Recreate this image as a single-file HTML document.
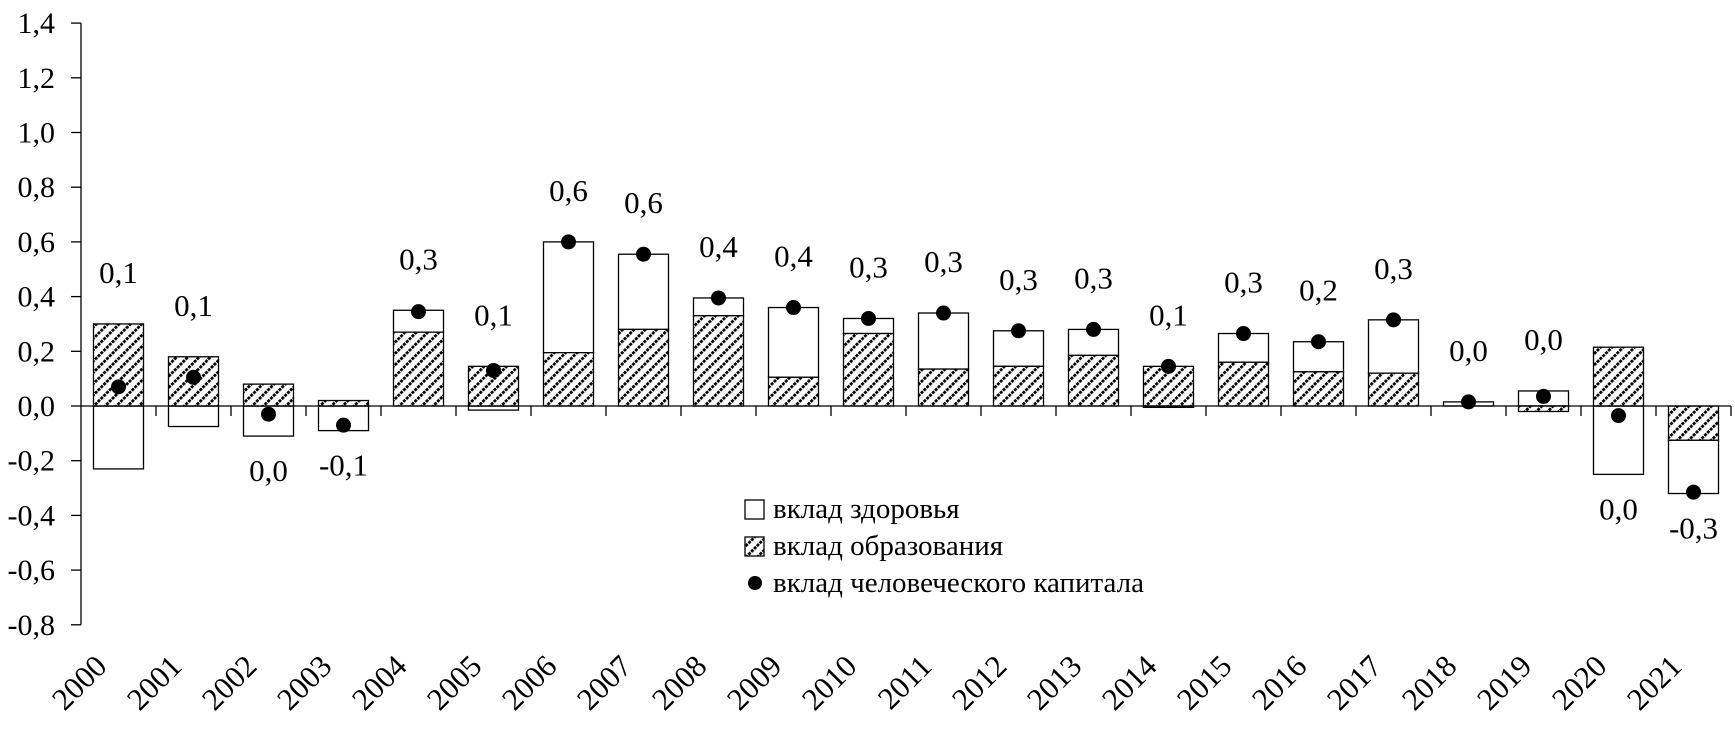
<!DOCTYPE html>
<html><head><meta charset="utf-8"><style>
html,body{margin:0;padding:0;background:#fff;}
svg, svg text{font-family:"Liberation Serif","Times New Roman",serif;}
</style></head><body>
<svg id="chart" width="1735" height="739" viewBox="0 0 1735 739" font-family="Liberation Serif, serif">
<defs>
<pattern id="hatch" patternUnits="userSpaceOnUse" width="8" height="8" patternTransform="rotate(45)">
<rect width="8" height="8" fill="#fff"/>
<line x1="1" y1="0" x2="1" y2="8" stroke="#000" stroke-width="3.5" stroke-dasharray="3,1"/>
</pattern>
</defs>
<g id="plot"></g>
<g font-family="Liberation Serif, serif">
<rect x="745" y="500" width="19" height="19" fill="#fff" stroke="#000" stroke-width="1.3"/>
<text x="773" y="518" font-size="29">вклад здоровья</text>
<rect x="745" y="537" width="19" height="19" fill="url(#hatch)" stroke="#000" stroke-width="1.3"/>
<text x="773" y="555" font-size="29">вклад образования</text>
<circle cx="755" cy="583" r="7" fill="#000"/>
<text x="773" y="592" font-size="29">вклад человеческого капитала</text>
</g>
</svg>
<script>
const years = ["2000","2001","2002","2003","2004","2005","2006","2007","2008","2009","2010","2011","2012","2013","2014","2015","2016","2017","2018","2019","2020","2021"];
const education = [0.30,0.18,0.08,0.02,0.27,0.145,0.195,0.28,0.33,0.105,0.265,0.135,0.145,0.185,0.145,0.16,0.125,0.12,0.0,-0.02,0.215,-0.125];
const health = [-0.23,-0.075,-0.11,-0.09,0.08,-0.015,0.405,0.275,0.065,0.255,0.055,0.205,0.13,0.095,-0.005,0.105,0.11,0.195,0.015,0.055,-0.25,-0.195];
const humanCapital = [0.07,0.105,-0.03,-0.07,0.345,0.13,0.60,0.555,0.395,0.36,0.32,0.34,0.275,0.28,0.145,0.265,0.235,0.315,0.015,0.035,-0.035,-0.315];
const valueLabels = ["0,1","0,1","0,0","-0,1","0,3","0,1","0,6","0,6","0,4","0,4","0,3","0,3","0,3","0,3","0,1","0,3","0,2","0,3","0,0","0,0","0,0","-0,3"];
const yTicks = [-0.8,-0.6,-0.4,-0.2,0,0.2,0.4,0.6,0.8,1.0,1.2,1.4];

const NS="http://www.w3.org/2000/svg";
const g=document.getElementById('plot');
const X0=81, CW=75, BW=50, Y0=406, PX=273.5;
const y=v=>Y0-v*PX;
const cx=i=>X0+CW*i+CW/2;
function mk(tag,attrs){const e=document.createElementNS(NS,tag);for(const k in attrs)e.setAttribute(k,attrs[k]);if(tag==='text')e.setAttribute('font-family','Liberation Serif, serif');g.appendChild(e);return e;}

let ax=mk('line',{x1:X0,y1:y(1.4),x2:X0,y2:y(-0.8),stroke:'#000','stroke-width':1.3});


yTicks.forEach(t=>{
  const tk=mk('line',{x1:X0-10,y1:y(t),x2:X0,y2:y(t),stroke:'#000','stroke-width':1.3});
  
  
  const tx=mk('text',{x:X0-26,y:y(t)+10,'font-size':30,'text-anchor':'end'});
  tx.textContent=t.toFixed(1).replace('.',',');
  
  
});

years.forEach((yr,i)=>{
  const c=cx(i), l=c-BW/2;
  const e=education[i], h=health[i];
  let posTop=0,negBot=0;
  let eTop,eBot;
  if(e>=0){eBot=0;eTop=e;posTop=e;}else{eTop=0;eBot=e;negBot=e;}
  let hTop,hBot;
  if(h>=0){hBot=posTop;hTop=posTop+h;posTop=hTop;}else{hTop=negBot;hBot=negBot+h;negBot=hBot;}
  const hr=mk('rect',{x:l,y:y(hTop),width:BW,height:Math.max(0,y(hBot)-y(hTop)),fill:'#fff',stroke:'#000','stroke-width':1.3});
  
  
  const er=mk('rect',{x:l,y:y(eTop),width:BW,height:Math.max(0,y(eBot)-y(eTop)),fill:'url(#hatch)',stroke:'#000','stroke-width':1.3});
  
  
});
let zl=mk('line',{x1:X0,y1:Y0,x2:X0+CW*years.length,y2:Y0,stroke:'#000','stroke-width':1.3});


years.forEach((yr,i)=>{
  const xt=X0+CW*(i+1);
  const tk=mk('line',{x1:xt,y1:Y0,x2:xt,y2:Y0+10,stroke:'#000','stroke-width':1.3});
  
  
  const c=cx(i);
  const tx=mk('text',{x:c-10,y:668,'font-size':31,'text-anchor':'end',transform:`rotate(-45 ${c-10} 668)`});
  tx.textContent=yr;
  
  
});
years.forEach((yr,i)=>{
  const c=cx(i), v=humanCapital[i];
  const d=mk('circle',{cx:c,cy:y(v),r:7.5,fill:'#000'});
  
  
  const e=education[i], h=health[i];
  const pos=Math.max(0,e)+Math.max(0,h), neg=Math.min(0,e)+Math.min(0,h);
  let ly;
  if(v>=0) ly=y(Math.max(pos,v))-52+11;
  else ly=y(Math.min(neg,v))+34+11;
  const tx=mk('text',{x:c,y:ly,'font-size':31,'text-anchor':'middle'});
  tx.textContent=valueLabels[i];
  
  
});
</script>
</body></html>
